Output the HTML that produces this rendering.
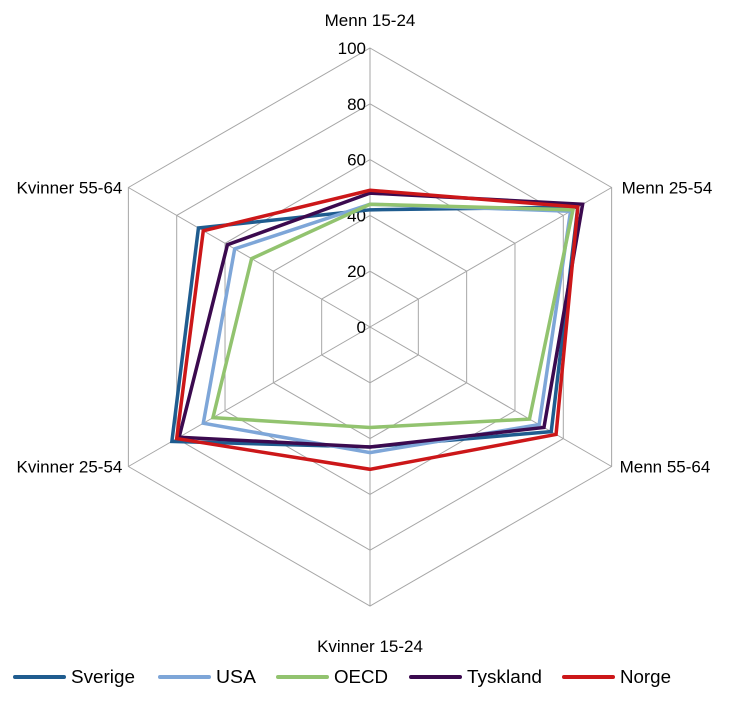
<!DOCTYPE html>
<html><head><meta charset="utf-8"><style>
body{margin:0;background:#fff;}
svg{display:block;font-family:"Liberation Sans",Arial,sans-serif;}
</style></head><body>
<svg id="chart" width="730" height="705"></svg>
<script>
const categories=["Menn 15-24","Menn 25-54","Menn 55-64","Kvinner 15-24","Kvinner 25-54","Kvinner 55-64"];
const seriesNames=["Sverige","USA","OECD","Tyskland","Norge"];
const sverige=[42,86,75,43,82,71];
const usa=[44,83,70,45,69,56];
const oecd=[44,84,66,36,65,49];
const tyskland=[48,88,72,43,79,59];
const norge=[49,86,77,51,80,69];
const ticks=[0,20,40,60,80,100];
const colors=["#1f5c8f","#7ea6d8","#92c36f","#3b0a4f","#cc1719"];
const allSeries=[sverige,usa,oecd,tyskland,norge];
const NS="http://www.w3.org/2000/svg";
const svg=document.getElementById('chart');
const cx=370,cy=327,R=279,maxV=100;
function pt(i,v){const a=(-90+60*i)*Math.PI/180;const r=v/maxV*R;return [cx+r*Math.cos(a),cy+r*Math.sin(a)];}
function mk(t,attrs){const e=document.createElementNS(NS,t);for(const k in attrs)e.setAttribute(k,attrs[k]);svg.appendChild(e);return e;}
ticks.forEach(t=>{if(t===0)return;const p=categories.map((c,i)=>pt(i,t).join(',')).join(' ');
const g=mk('polygon',{points:p,fill:'none',stroke:'#a6a6a6','stroke-width':1});

});
categories.forEach((c,i)=>{const [x,y]=pt(i,maxV);const l=mk('line',{x1:cx,y1:cy,x2:x,y2:y,stroke:'#a6a6a6','stroke-width':1});

});
ticks.forEach(t=>{const [x,y]=pt(0,t);const tx=mk('text',{x:x-4,y:y+6,'text-anchor':'end','font-size':17,fill:'#000'});tx.textContent=t;

});
const lblPos=[[0,-22,'middle'],[10,6,'start'],[8,6,'start'],[0,46,'middle'],[-6,6,'end'],[-6,6,'end']];
categories.forEach((c,i)=>{const [x,y]=pt(i,maxV);const o=lblPos[i];const tx=mk('text',{x:x+o[0],y:y+o[1],'text-anchor':o[2],'font-size':17,fill:'#000'});tx.textContent=c;

});
allSeries.forEach((s,k)=>{const p=s.map((v,i)=>pt(i,v).join(',')).join(' ');
const pg=mk('polygon',{points:p,fill:'none',stroke:colors[k],'stroke-width':3.5,'stroke-linejoin':'miter'});

});
const legX=[15,160,278,411,564];
const legW=[64,40,54,75,51];
seriesNames.forEach((n,k)=>{const x=legX[k];
const l=mk('line',{x1:x,y1:677,x2:x+49,y2:677,stroke:colors[k],'stroke-width':4,'stroke-linecap':'round'});


const t=mk('text',{x:x+56,y:683,'font-size':18,fill:'#000',textLength:legW[k],lengthAdjust:'spacingAndGlyphs'});t.textContent=n;

});
</script>
</body></html>
